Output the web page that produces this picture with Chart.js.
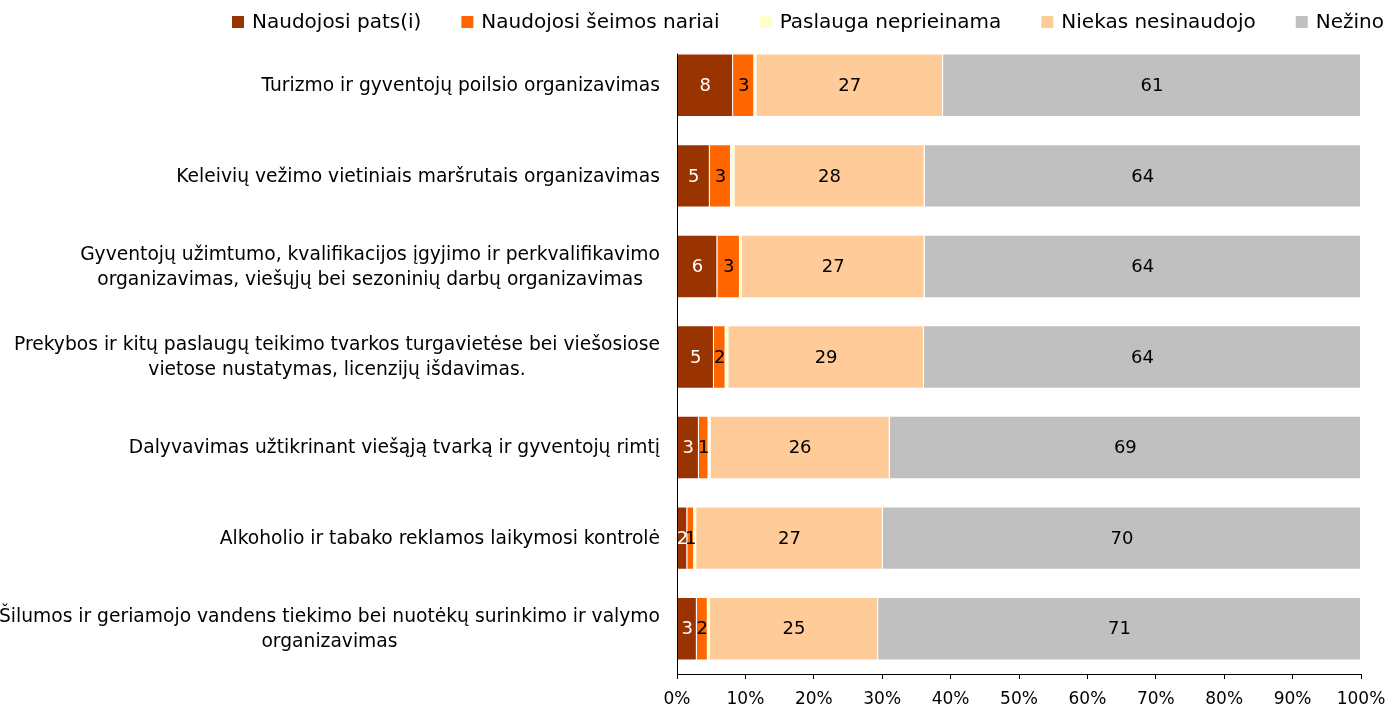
<!DOCTYPE html>
<html>
<head>
<meta charset="utf-8">
<script src="https://cdn.jsdelivr.net/npm/chart.js@4.4.1/dist/chart.umd.min.js"></script>
<style>
  body { margin: 0; background: #fff; }
</style>
</head>
<body>
<canvas id="usageChart" width="1398" height="709"></canvas>
<script>
// Categories (multi-line ones as arrays)
const categories = [
    'Turizmo ir gyventojų poilsio organizavimas',
    'Keleivių vežimo vietiniais maršrutais organizavimas',
    ['Gyventojų užimtumo, kvalifikacijos įgyjimo ir perkvalifikavimo', 'organizavimas, viešųjų bei sezoninių darbų organizavimas'],
    ['Prekybos ir kitų paslaugų teikimo tvarkos turgavietėse bei viešosiose', 'vietose nustatymas, licenzijų išdavimas.'],
    'Dalyvavimas užtikrinant viešąją tvarką ir gyventojų rimtį',
    'Alkoholio ir tabako reklamos laikymosi kontrolė',
    ['Šilumos ir geriamojo vandens tiekimo bei nuotėkų surinkimo ir valymo', 'organizavimas']
];

const seriesNames = ['Naudojosi pats(i)', 'Naudojosi šeimos nariai', 'Paslauga neprieinama', 'Niekas nesinaudojo', 'Nežino'];

// Values in %
const patsValues     = [8.2, 4.8, 5.9, 5.4, 3.2, 1.5, 2.9];
const seimosValues   = [3.1, 3.1, 3.3, 1.7, 1.4, 1.0, 1.6];
const paslaugaValues = [0.3, 0.5, 0.3, 0.4, 0.3, 0.3, 0.3];
const niekasValues   = [27.3, 27.8, 26.7, 28.6, 26.2, 27.3, 24.6];
const nezinoValues   = [61.1, 63.8, 63.8, 63.9, 68.9, 69.9, 70.6];

const xTickLabels = ['0%', '10%', '20%', '30%', '40%', '50%', '60%', '70%', '80%', '90%', '100%'];

const FONT = '"DejaVu Sans", sans-serif';
const colors = ['#993300', '#FF6600', '#FFFFCC', '#FFCC99', '#C0C0C0'];
const allValues = [patsValues, seimosValues, paslaugaValues, niekasValues, nezinoValues];

// value labels in the middle of each segment
const barLabels = {
    id: 'barLabels',
    afterDatasetsDraw(chart) {
        const ctx = chart.ctx;
        ctx.save();
        ctx.font = '18px ' + FONT;
        ctx.textAlign = 'center';
        ctx.textBaseline = 'middle';
        chart.data.datasets.forEach((ds, di) => {
            if (di === 2) return; // no labels for "Paslauga neprieinama"
            ctx.fillStyle = di === 0 ? '#fff' : '#000';
            chart.getDatasetMeta(di).data.forEach((bar, i) => {
                ctx.fillText(Math.round(ds.data[i]), (bar.x + bar.base) / 2, bar.y + 1);
            });
        });
        ctx.restore();
    }
};

// category labels: right aligned block, lines centered within it; plus the vertical axis line
const categoryLabels = {
    id: 'categoryLabels',
    afterDraw(chart) {
        const ctx = chart.ctx;
        const yScale = chart.scales.y;
        const area = chart.chartArea;
        const right = area.left - 17;
        ctx.save();
        const firstBar = chart.getDatasetMeta(0).data[0];
        ctx.strokeStyle = '#000';
        ctx.lineWidth = 1;
        ctx.beginPath();
        ctx.moveTo(area.left + 0.5, firstBar.y - firstBar.height / 2);
        ctx.lineTo(area.left + 0.5, area.bottom);
        ctx.stroke();

        ctx.font = '18.7px ' + FONT;
        ctx.fillStyle = '#000';
        ctx.textAlign = 'center';
        ctx.textBaseline = 'middle';
        categories.forEach((label, i) => {
            const lines = Array.isArray(label) ? label : [label];
            const w = Math.max(...lines.map(l => ctx.measureText(l).width));
            const cy = yScale.getPixelForValue(i);
            lines.forEach((line, j) => {
                ctx.fillText(line, right - w / 2, cy + 1 + (j - (lines.length - 1) / 2) * 25);
            });
        });
        ctx.restore();
    }
};

// legend across the top
const topLegend = {
    id: 'topLegend',
    afterDraw(chart) {
        const ctx = chart.ctx;
        const start = 232, end = 1384, y = 22;
        ctx.save();
        ctx.font = '20px ' + FONT;
        ctx.textBaseline = 'middle';
        ctx.textAlign = 'left';
        const widths = chart.data.datasets.map(ds => 20 + ctx.measureText(ds.label).width);
        const gap = (end - start - widths.reduce((a, b) => a + b, 0)) / (widths.length - 1);
        let x = start;
        chart.data.datasets.forEach((ds, i) => {
            ctx.fillStyle = ds.backgroundColor;
            ctx.fillRect(x, y - 6, 12, 12);
            ctx.fillStyle = '#000';
            ctx.fillText(ds.label, x + 20, y + 1);
            x += widths[i] + gap;
        });
        ctx.restore();
    }
};

const ctx = document.getElementById('usageChart').getContext('2d');

new Chart(ctx, {
    type: 'bar',
    data: {
        labels: categories,
        datasets: seriesNames.map((name, i) => ({
            label: name,
            data: allValues[i],
            backgroundColor: colors[i],
            borderColor: '#fff',
            borderWidth: 1,
            barPercentage: 0.7,
            categoryPercentage: 1
        }))
    },
    options: {
        indexAxis: 'y',
        responsive: false,
        animation: false,
        layout: { padding: { top: 40, right: 37, left: 0, bottom: 0 } },
        plugins: {
            legend: { display: false },
            tooltip: { enabled: false }
        },
        scales: {
            x: {
                stacked: true,
                min: 0,
                max: 100,
                ticks: {
                    stepSize: 10,
                    color: '#000',
                    padding: 10,
                    font: { size: 17, family: FONT },
                    callback: (v, i) => xTickLabels[i]
                },
                grid: { drawOnChartArea: false, tickLength: 5, color: '#000' },
                border: { color: '#000' },
                afterFit: s => { s.height = 35; }
            },
            y: {
                stacked: true,
                ticks: { display: false },
                grid: { display: false, drawOnChartArea: false, drawTicks: false },
                border: { display: false },
                afterFit: s => { s.width = 677; }
            }
        }
    },
    plugins: [barLabels, categoryLabels, topLegend]
});
</script>
</body>
</html>
